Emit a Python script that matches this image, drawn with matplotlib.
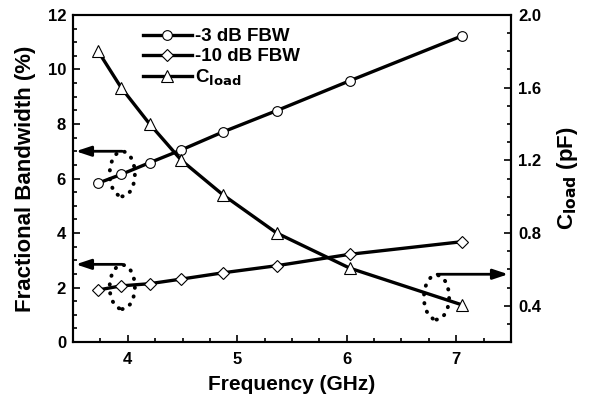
import numpy as np
import matplotlib
matplotlib.use('Agg')
import matplotlib.pyplot as plt
from matplotlib.patches import Ellipse
from matplotlib.ticker import MultipleLocator

plt.rcParams['font.family'] = ['Liberation Sans', 'DejaVu Sans']
plt.rcParams['font.weight'] = 'bold'
plt.rcParams['mathtext.default'] = 'bf'

# data
freq = [3.73, 3.94, 4.20, 4.49, 4.87, 5.36, 6.03, 7.05]
fbw_3db = [5.83, 6.15, 6.58, 7.05, 7.71, 8.49, 9.59, 11.23]
fbw_10db = [1.91, 2.06, 2.14, 2.31, 2.54, 2.80, 3.22, 3.68]
c_load = [1.80, 1.60, 1.40, 1.20, 1.01, 0.80, 0.606, 0.405]

fig = plt.figure(figsize=(5.95, 4.01), dpi=100)
ax = fig.add_axes([0.1227, 0.1471, 0.7361, 0.8155])
ax2 = ax.twinx()

lw = 2.4
ms = 7
l1, = ax.plot(freq, fbw_3db, '-o', color='black', lw=lw, ms=ms, mfc='white', mec='black', mew=0.8, label='-3 dB FBW')
l2, = ax.plot(freq, fbw_10db, '-D', color='black', lw=lw, ms=ms - 0.5, mfc='white', mec='black', mew=0.8, label='-10 dB FBW')
l3, = ax2.plot(freq, c_load, '-^', color='black', lw=lw, ms=ms + 1, mfc='white', mec='black', mew=0.8, label='C$_{load}$')

ax.set_xlim(3.5, 7.5)
ax.set_ylim(0, 12)
ax2.set_ylim(0.2, 2.0)

ax.xaxis.set_major_locator(MultipleLocator(1))
ax.xaxis.set_minor_locator(MultipleLocator(0.25))
ax.yaxis.set_major_locator(MultipleLocator(2))
ax.yaxis.set_minor_locator(MultipleLocator(0.5))
ax2.yaxis.set_minor_locator(MultipleLocator(0.1))
ax2.set_yticks([0.4, 0.8, 1.2, 1.6, 2.0])
ax2.set_yticklabels(['0.4', '0.8', '1.2', '1.6', '2.0'])

for a in (ax, ax2):
    a.tick_params(which='both', direction='in', width=1.2, labelsize=12)
    a.tick_params(which='major', length=5, pad=5)
    a.tick_params(which='minor', length=3)
    for s in a.spines.values():
        s.set_linewidth(1.5)
ax.tick_params(axis='y', which='both', right=False)
ax.tick_params(axis='x', which='both', top=False)
ax.tick_params(axis='x', which='major', pad=7)

ax.set_xlabel('Frequency (GHz)', fontsize=15, fontweight='bold', labelpad=6)
ax.set_ylabel('Fractional Bandwidth (%)', fontsize=16, fontweight='bold', labelpad=8)
ax2.set_ylabel('C$_{load}$ (pF)', fontsize=16, fontweight='bold', labelpad=10)

# dotted ellipses and arrows
ell_kw = dict(fill=False, ls=(0, (0.1, 2.2)), lw=2.8, ec='black', capstyle='round')
ax.add_patch(Ellipse((3.95, 6.17), 0.23, 1.65, **ell_kw))
ax.add_patch(Ellipse((3.95, 2.02), 0.23, 1.62, **ell_kw))
ax2.add_patch(Ellipse((6.82, 0.446), 0.23, 0.245, **ell_kw))

arr_kw = dict(arrowstyle='-|>,head_length=0.9,head_width=0.3', color='black', lw=2.0)
ax.annotate('', xy=(3.5, 7.0), xytext=(3.975, 7.0), arrowprops=arr_kw, annotation_clip=False)
ax.annotate('', xy=(3.5, 2.85), xytext=(3.975, 2.85), arrowprops=arr_kw, annotation_clip=False)
ax2.annotate('', xy=(7.5, 0.573), xytext=(6.80, 0.573), arrowprops=arr_kw, annotation_clip=False)

leg = ax.legend(handles=[l1, l2, l3], loc='upper left', bbox_to_anchor=(0.13, 1.0),
                frameon=False, fontsize=13.5, handlelength=2.6, handletextpad=0.15,
                labelspacing=0.15, borderpad=0.2)

fig.savefig('out.png', dpi=100)
